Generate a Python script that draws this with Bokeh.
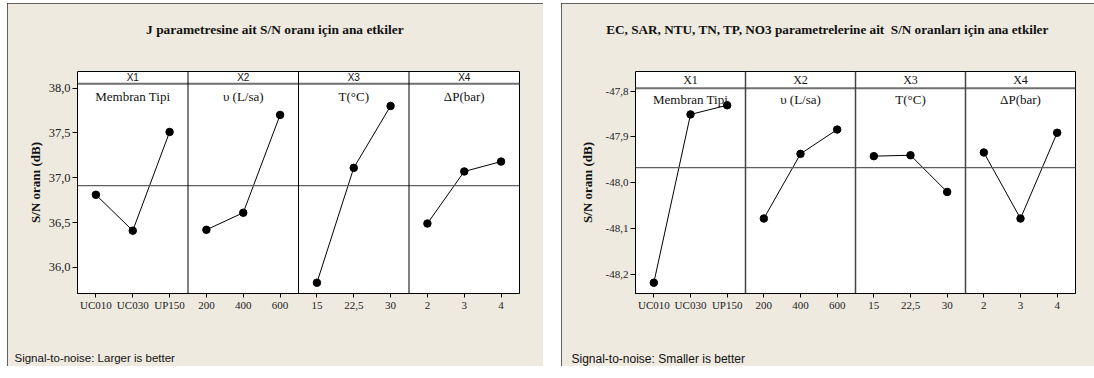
import numpy as np
from bokeh.plotting import figure
from bokeh.models import (Range1d, FixedTicker, Span, Label, Title, LinearAxis,
                          CustomJSTickFormatter, Spacer)
from bokeh.layouts import row, column
from bokeh.embed import file_html
from bokeh.resources import INLINE

# ---------------- data ----------------
factor_codes = ["X1", "X2", "X3", "X4"]
factor_names = ["Membran Tipi", "υ (L/sa)", "T(°C)", "ΔP(bar)"]
x1_levels = ["UC010", "UC030", "UP150"]
x2_levels = ["200", "400", "600"]
x3_levels = ["15", "22,5", "30"]
x4_levels = ["2", "3", "4"]

# J parameter, larger is better
j_sn_x1 = [36.81, 36.41, 37.51]
j_sn_x2 = [36.42, 36.61, 37.70]
j_sn_x3 = [35.83, 37.11, 37.80]
j_sn_x4 = [36.49, 37.07, 37.18]
j_yticks = [36.0, 36.5, 37.0, 37.5, 38.0]

# EC, SAR, NTU, TN, TP, NO3, smaller is better
m_sn_x1 = [-48.218, -47.851, -47.831]
m_sn_x2 = [-48.078, -47.937, -47.884]
m_sn_x3 = [-47.942, -47.940, -48.020]
m_sn_x4 = [-47.934, -48.078, -47.891]
m_yticks = [-48.2, -48.1, -48.0, -47.9, -47.8]

j_title = "J parametresine ait S/N oranı için ana etkiler"
m_title = "EC, SAR, NTU, TN, TP, NO3 parametrelerine ait\u00a0 S/N oranları için ana etkiler"
j_footer = "Signal-to-noise: Larger is better"
m_footer = "Signal-to-noise: Smaller is better"
y_label = "S/N oranı (dB)"

BEIGE = "#EEEAE0"
SERIF = "Liberation Serif"
SANS = "Liberation Sans"
H = 363
TOP = 3
MBT = 68
MBB = 73


def gap_axis(size):
    # an axis with one invisible tick and an empty label: it only reserves space
    return LinearAxis(ticker=FixedTicker(ticks=[0.5]),
                      formatter=CustomJSTickFormatter(code="return '';"),
                      major_tick_out=size, major_tick_in=0, major_label_standoff=0,
                      major_tick_line_color=BEIGE, minor_tick_line_color=None,
                      axis_line_color=None, major_label_text_alpha=0)


def build(cfg):
    W, mbl, mbr = cfg["W"], cfg["mbl"], cfg["mbr"]
    series = cfg["series"]
    levels = [x1_levels, x2_levels, x3_levels, x4_levels]
    all_labels = [lab for lv in levels for lab in lv]
    y0, y1 = cfg["yrange"]

    p = figure(width=W, height=H, x_range=Range1d(0.5, 12.5),
               y_range=Range1d(y0, y1), output_backend="svg",
               toolbar_location=None, min_border_left=mbl, min_border_right=mbr,
               min_border_top=MBT, min_border_bottom=MBB)
    p.background_fill_color = "white"
    p.border_fill_color = BEIGE
    p.outline_line_color = "black"
    p.outline_line_width = 1
    p.xgrid.visible = False
    p.ygrid.visible = False
    p.styles = {"outline": "1px solid #333333", "outline-offset": "-1px"}

    # axes
    xax = p.xaxis[0]
    xax.ticker = FixedTicker(ticks=list(range(1, 13)))
    xax.formatter = CustomJSTickFormatter(args=dict(labels=all_labels),
                                          code="return labels[Math.round(tick) - 1];")
    xax.major_label_text_font = SERIF
    xax.major_label_text_font_size = "11px"
    xax.major_label_text_color = "#222222"
    xax.major_tick_out = 4
    xax.major_tick_in = 0
    xax.minor_tick_line_color = None
    xax.major_label_standoff = 1
    xax.axis_line_color = "black"

    yax = p.yaxis[0]
    yax.ticker = FixedTicker(ticks=cfg["yticks"])
    yax.formatter = CustomJSTickFormatter(code="return tick.toFixed(1).replace('.', ',');")
    yax.major_label_text_font = SERIF
    yax.major_label_text_font_size = cfg["ytick_size"]
    yax.major_label_text_color = "#222222"
    yax.major_tick_out = 5
    yax.major_tick_in = 0
    yax.minor_tick_line_color = None
    yax.major_label_standoff = 2
    yax.axis_line_color = "black"
    yax.axis_label = y_label
    yax.axis_label_text_font = SERIF
    yax.axis_label_text_font_style = "bold"
    yax.axis_label_text_font_size = "13px"
    yax.axis_label_text_color = "#111111"
    yax.axis_label_standoff = cfg["ylab_standoff"]

    # strip bottom line, reference line, panel dividers
    p.add_layout(Span(location=cfg["strip_val"], dimension="width",
                      line_color="#707070", line_width=2))
    grand_mean = float(np.mean([v for s in series for v in s]))
    p.add_layout(Span(location=grand_mean, dimension="width",
                      line_color="#606060", line_width=1.3))
    for k in range(1, 4):
        p.add_layout(Span(location=3 * k + 0.5, dimension="height",
                          line_color=cfg["div_color"], line_width=cfg["div_width"]))

    # data
    for k, s in enumerate(series):
        xs_data = [3 * k + i + 1 for i in range(len(s))]
        p.line(xs_data, s, line_color="black", line_width=1)
        p.scatter(xs_data, s, size=7.5, color="black")

    # strip and panel labels
    strip_mid = (cfg["strip_val"] + y1) / 2
    for k in range(4):
        p.add_layout(Label(x=3 * k + 2, y=strip_mid,
                           text=factor_codes[k], text_align="center", text_baseline="middle",
                           text_font=cfg["strip_font"], text_font_size=cfg["strip_size"],
                           text_color="#111111"))
        p.add_layout(Label(x=3 * k + 2, y=cfg["name_val"],
                           text=factor_names[k], text_align="center", text_baseline="middle",
                           text_font=SERIF, text_font_size="13px", text_color="#111111"))

    # title above (a space-keeping axis between it and the frame)
    p.add_layout(gap_axis(cfg["title_gap"]), "above")
    p.add_layout(Title(text=cfg["title"], align="left", offset=cfg["title_offset"],
                       standoff=0, vertical_align="bottom", text_font=SERIF,
                       text_font_style="bold", text_font_size=cfg["title_size"],
                       text_color="#111111"), "above")
    # footer below the x axis
    p.add_layout(gap_axis(cfg["footer_gap"]), "below")
    p.add_layout(Title(text=cfg["footer"], align="left", offset=cfg["footer_offset"],
                       standoff=0, vertical_align="bottom", text_font=SANS,
                       text_font_style="normal", text_font_size=cfg["footer_size"],
                       text_color="#111111"), "below")
    return p


p1 = build(dict(W=536, mbl=70, mbr=24,
                series=[j_sn_x1, j_sn_x2, j_sn_x3, j_sn_x4],
                yrange=(35.71, 38.184), yticks=j_yticks, ytick_size="12.5px",
                ylab_standoff=3, strip_val=38.047, name_val=37.905,
                div_color="black", div_width=1,
                strip_font=SANS, strip_size="10px",
                title=j_title, title_size="13.4px", title_offset=68.6, title_gap=35,
                footer=j_footer, footer_offset=-63, footer_gap=36,
                footer_size="11.5px"))

p2 = build(dict(W=533, mbl=74, mbr=19,
                series=[m_sn_x1, m_sn_x2, m_sn_x3, m_sn_x4],
                yrange=(-48.2415, -47.7574), yticks=m_yticks, ytick_size="11px",
                ylab_standoff=8, strip_val=-47.794, name_val=-47.8186,
                div_color="#444444", div_width=1.5,
                strip_font=SERIF, strip_size="12px",
                title=m_title, title_size="13.2px", title_offset=-29.2, title_gap=35,
                footer=m_footer, footer_offset=-64, footer_gap=36,
                footer_size="12px"))

layout = column(Spacer(height=TOP),
                row(Spacer(width=7), p1, Spacer(width=18), p2))
open("out.html", "w").write(file_html(layout, INLINE))
